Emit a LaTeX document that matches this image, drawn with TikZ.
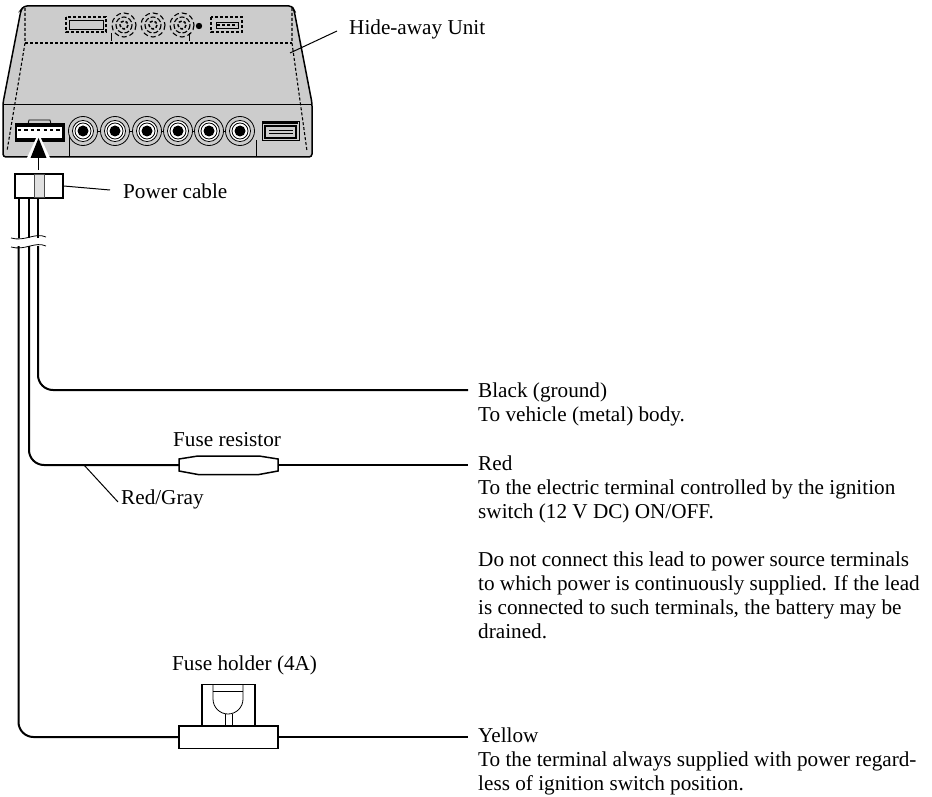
\documentclass[tikz,border=0pt]{standalone}
\usepackage{fontspec}
\setmainfont{Liberation Serif}
\tikzset{
 x=1pt,y=-1pt,
 lbl/.style={anchor=base west,inner sep=0pt,font=\fontsize{21.2}{24}\selectfont},
 lead/.style={line width=1pt,draw=black},
 wire/.style={line width=2pt,draw=black,rounded corners=15pt},
 thinl/.style={line width=0.8pt,draw=black},
 part/.style={line width=1.5pt,draw=black,fill=white},
 dashl/.style={line width=1.1pt,draw=black,dash pattern=on 3pt off 2pt},
}
\begin{document}
\begin{tikzpicture}
\useasboundingbox (0,0) rectangle (932,797);
% body
\path[draw=black,line width=1.5pt,fill=black!20,rounded corners=3pt] (24,6) -- (292,6) -- (294,10) -- (312,103) -- (312,157) -- (3,157) -- (3,103) -- (21,10) -- cycle;
\draw[thinl] (3,104) -- (312,104);
\draw[dashl] (25,8) -- (25,43) -- (7,151);
\draw[dashl] (292,8) -- (292,43) -- (307,151);
\draw[dashl] (25,43) -- (292,43);
% top details
\draw[dashl,line width=1.8pt] (66,17) rectangle (106,32);
\draw[thinl] (69,20) rectangle (103,29);
\foreach \cx in {124,153,182}{
 \draw[dashl,dash pattern=on 5pt off 3pt] (\cx,25) circle (12);
 \draw[dashl,dash pattern=on 5pt off 2pt] (\cx,25) circle (8);
 \draw[dashl,line width=1.5pt] (\cx,25) circle (4);
}
\draw[thinl] (111,33) -- (111,41);
\draw[thinl] (189.5,33) -- (189.5,41);
\fill (199,26) circle (3.2);
\draw[dashl,line width=1.8pt] (211,17) rectangle (242,32);
\draw[thinl] (216,22) rectangle (238,28);
\draw[dashl] (217,25) -- (237,25);
% rear details
\draw[thinl] (69,125) -- (69,157);
\draw[thinl] (256,140) -- (256,157);
\draw[thinl,fill=black!20] (28,124) -- (29,120) -- (50,120) -- (51,124);
\filldraw[line width=1pt,draw=black,fill=black] (15,124) rectangle (64,142);
\fill[white] (17,127) rectangle (62,138);
\draw[line width=2pt,dash pattern=on 3.2pt off 3.2pt] (18,130) -- (62,130);
\draw[thinl] (83,131) -- (240,131);
\foreach \cx in {83,115,147,178,209,240}{
 \draw[thinl,fill=black!20] (\cx,131) circle (14.5);
 \draw[thinl,fill=white] (\cx,131) circle (10.5);
 \draw[thinl] (\cx,131) circle (8);
 \fill (\cx,131) circle (5.5);
}
\draw[line width=1pt,fill=black!20] (262,122) rectangle (299,141);
\draw[line width=2pt] (263,123) -- (298,123);
\draw[line width=1.3pt,fill=black!20] (265,126) rectangle (296,138);
\draw[thinl] (269,130) -- (293,130);
\draw[thinl] (269,133) -- (293,133);
% arrow
\fill[white] (38.5,133) -- (51,160) -- (26,160) -- cycle;
\fill[black] (38.5,138) -- (46.5,158) -- (30.5,158) -- cycle;
\draw[line width=1pt] (38.5,155) -- (38.5,170);
% plug and wires down to the break
\node[draw=black,line width=1.5pt,fill=white,minimum width=48pt,minimum height=24pt,inner sep=0pt] (plug) at (39,186) {};
\draw[line width=1pt,draw=black!70,fill=black!12] (34,175) rectangle (44,197);
\foreach \wx in {18.5,29,38}{
 \draw[line width=2pt] (\wx,198) -- (\wx,238);
}
% wires
\coordinate (blackEnd) at (468,390);
\coordinate (redEnd) at (468,465);
\coordinate (yelEnd) at (468,737);
\node[minimum width=99pt,minimum height=18pt,inner sep=0pt] (fr) at (228.5,465) {};
\node[minimum width=99pt,minimum height=23pt,inner sep=0pt] (fh) at (228.5,737) {};
\draw[wire] (38,246) -- (38,390) -- (blackEnd);
\draw[wire] (29,246) -- (29,465) -- (fr.west);
\draw[wire] (18.5,246) -- (18.5,737) -- (fh.west);
\draw[wire] (fr.east) -- (redEnd);
\draw[wire] (fh.east) -- (yelEnd);
% fuse resistor
\draw[part] (179,459) -- (198,456) -- (259,456) -- (278,459) -- (278,471) -- (259,474.5) -- (198,474.5) -- (179,471) -- cycle;
% fuse holder
\draw[part] (202,684.5) rectangle (255,726);
\draw[thinl] (213,685) -- (213,699) arc[start angle=180,end angle=0,radius=15] -- (243,685);
\draw[thinl] (213,691.5) -- (243,691.5);
\draw[thinl] (225,714) -- (225,726);
\draw[thinl] (232,714) -- (232,726);
\draw[part] (179,726) rectangle (278,748.5);
% break
\draw[thinl] (11,238) .. controls (25,242) and (35,232) .. (46,237);
\draw[thinl] (11,247) .. controls (25,251) and (35,241) .. (46,246);
% labels
\node[lbl] (hide) at (349,35) {Hide-away Unit};
\coordinate (hideTip) at (290,53);
\draw[lead] (hideTip) -- (337,31);
\node[lbl] (pc) at (123,198) {Power cable};
\draw[lead] (plug.east) -- (110,190);
\node[lbl] (fres) at (173,446) {Fuse resistor};
\node[lbl] (rg) at (121,504) {Red/Gray};
\coordinate (rgTip) at (84,465);
\draw[lead] (rgTip) -- (118,502);
\node[lbl] (fhl) at (172,670) {Fuse holder (4A)};
\node[lbl] at (478,397) {Black (ground)};
\node[lbl] at (478,421.5) {To vehicle (metal) body.};
\node[lbl] at (478,470) {Red};
\node[lbl] at (478,494) {To the electric terminal controlled by the ignition};
\node[lbl] at (478,518) {switch (12 V DC) ON/OFF.};
\node[lbl] at (478,566) {Do not connect this lead to power source terminals};
\node[lbl] at (478,590) {to which power is continuously supplied. If the lead};
\node[lbl] at (478,614) {is connected to such terminals, the battery may be};
\node[lbl] at (478,638) {drained.};
\node[lbl] at (478,742) {Yellow};
\node[lbl] at (478,766) {To the terminal always supplied with power regard-};
\node[lbl] at (478,790) {less of ignition switch position.};
\end{tikzpicture}
\end{document}
